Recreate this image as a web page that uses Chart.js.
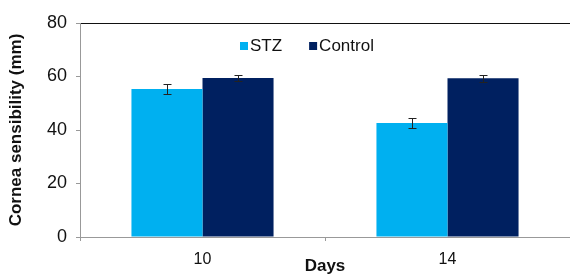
<!DOCTYPE html>
<html lang="en">
<head>
    <meta charset="UTF-8">
    <title>Cornea sensibility</title>
    <script src="https://cdn.jsdelivr.net/npm/chart.js"></script>
    <style>
        body {
            margin: 0;
            background: white;
        }
        .wrap {
            width: 570px;
            height: 277px;
        }
    </style>
</head>
<body>
    <div class="wrap">
        <canvas id="corneaChart"></canvas>
    </div>

    <script>
        const days = ['10', '14'];
        const stzValues = [55.3, 42.6];
        const stzErrors = [1.9, 1.9];
        const controlValues = [59.4, 59.3];
        const controlErrors = [1.2, 1.2];
        const yTicks = [0, 20, 40, 60, 80];

        const FONT = 'Arial, "Liberation Sans", sans-serif';

        // error bars, drawn on top of each bar
        const errorBars = {
            id: 'errorBars',
            afterDatasetsDraw(chart) {
                const ctx = chart.ctx;
                const yScale = chart.scales.y;
                ctx.save();
                ctx.strokeStyle = '#222';
                ctx.lineWidth = 1;
                chart.data.datasets.forEach((ds, i) => {
                    const meta = chart.getDatasetMeta(i);
                    meta.data.forEach((bar, j) => {
                        const v = ds.data[j];
                        const e = ds.errors[j];
                        const top = Math.round(yScale.getPixelForValue(v + e)) + 0.5;
                        const bottom = Math.round(yScale.getPixelForValue(v - e)) + 0.5;
                        const x = Math.round(bar.x) + 0.5;
                        ctx.beginPath();
                        ctx.moveTo(x, top);
                        ctx.lineTo(x, bottom);
                        ctx.moveTo(x - 4, top);
                        ctx.lineTo(x + 4, top);
                        ctx.moveTo(x - 4, bottom);
                        ctx.lineTo(x + 4, bottom);
                        ctx.stroke();
                    });
                });
                ctx.restore();
            }
        };

        // legend sits inside the plot area
        const innerLegend = {
            id: 'innerLegend',
            afterDraw(chart) {
                const ctx = chart.ctx;
                const area = chart.chartArea;
                let x = area.left + 160;
                const y = area.top + 23;
                ctx.save();
                ctx.font = '17px ' + FONT;
                ctx.textBaseline = 'middle';
                chart.data.datasets.forEach(ds => {
                    ctx.fillStyle = ds.backgroundColor;
                    ctx.fillRect(x, y - 4, 8, 8);
                    ctx.fillStyle = '#111';
                    ctx.fillText(ds.label, x + 10, y);
                    x += 10 + ctx.measureText(ds.label).width + 27;
                });
                ctx.restore();
            }
        };

        new Chart(document.getElementById('corneaChart'), {
            type: 'bar',
            data: {
                labels: days,
                datasets: [
                    {
                        label: 'STZ',
                        data: stzValues,
                        errors: stzErrors,
                        backgroundColor: '#00b0f0'
                    },
                    {
                        label: 'Control',
                        data: controlValues,
                        errors: controlErrors,
                        backgroundColor: '#002060'
                    }
                ]
            },
            options: {
                responsive: true,
                maintainAspectRatio: false,
                animation: false,
                layout: {
                    padding: { top: 23, right: 0, bottom: 0, left: 0 }
                },
                datasets: {
                    bar: {
                        categoryPercentage: 0.58,
                        barPercentage: 1.0
                    }
                },
                plugins: {
                    legend: { display: false },
                    tooltip: { enabled: false }
                },
                scales: {
                    x: {
                        afterFit(axis) { axis.height = 40; },
                        grid: {
                            offset: true,
                            drawOnChartArea: false,
                            tickLength: 4,
                            tickColor: '#999'
                        },
                        border: { color: '#999' },
                        ticks: {
                            color: '#111',
                            padding: 9,
                            font: { family: FONT, size: 16 }
                        },
                        title: {
                            display: true,
                            text: 'Days',
                            color: '#111',
                            padding: { top: 0, bottom: 0 },
                            font: { family: FONT, size: 17, weight: 'bold' }
                        }
                    },
                    y: {
                        min: 0,
                        max: 80,
                        afterFit(axis) { axis.width = 80; },
                        afterBuildTicks(axis) {
                            axis.ticks = yTicks.map(v => ({ value: v }));
                        },
                        grid: {
                            color: ctx => ctx.tick && ctx.tick.value === 80 ? '#111' : 'rgba(0,0,0,0)',
                            tickColor: '#999',
                            tickLength: 4
                        },
                        border: { color: '#999' },
                        ticks: {
                            color: '#111',
                            padding: 9,
                            font: { family: FONT, size: 18 }
                        },
                        title: {
                            display: true,
                            text: 'Cornea sensibility (mm)',
                            color: '#111',
                            padding: { top: 6, bottom: 0 },
                            font: { family: FONT, size: 17, weight: 'bold' }
                        }
                    }
                }
            },
            plugins: [errorBars, innerLegend]
        });
    </script>
</body>
</html>
